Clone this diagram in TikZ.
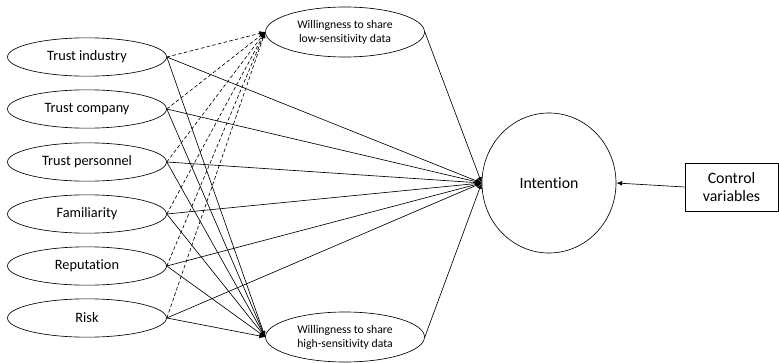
\documentclass[tikz,border=0pt]{standalone}
\usepackage{fontspec}
\setmainfont{Carlito}[Ligatures={NoCommon}]
\usetikzlibrary{shapes.geometric,arrows.meta}
\begin{document}
\begin{tikzpicture}[x=0.03cm,y=-0.03cm,line width=0.55pt,
  src/.style={draw,ellipse,minimum width=4.77cm,minimum height=1.15cm,inner sep=0pt,font=\fontsize{12.2}{14}\selectfont},
  med/.style={draw,ellipse,minimum width=4.77cm,minimum height=1.5cm,inner sep=0pt,align=center,font=\fontsize{10}{12}\selectfont},
  arr/.style={-{Latex[length=5pt,width=4pt]}},
  dsh/.style={arr,dashed,dash pattern=on 3pt off 2pt}]
\useasboundingbox (0,0) rectangle (779,363);
\node[src] (ti) at (87,57) {Trust industry};
\node[src] (tc) at (87,109) {Trust company};
\node[src] (tp) at (87,162) {Trust personnel};
\node[src] (fa) at (87,214) {Familiarity};
\node[src] (re) at (87,266) {Reputation};
\node[src] (ri) at (87,318) {Risk};
\node[med] (lo) at (345,32) {Willingness to share\\low-sensitivity data};
\node[med] (hi) at (345,337) {Willingness to share\\high-sensitivity data};
\node[draw,ellipse,minimum width=4.02cm,minimum height=4.2cm,inner sep=0pt,font=\fontsize{13.5}{15}\selectfont] (in) at (549,183) {Intention};
\node[draw,rectangle,minimum width=2.79cm,minimum height=1.44cm,align=center,inner sep=0pt,font=\fontsize{13.5}{15.5}\selectfont] (cv) at (731.5,187) {Control\\variables};
\foreach \n in {ti,tc,tp,fa,re,ri}{
  \draw[dsh] (\n.east) -- (lo.west);
  \draw[arr] (\n.east) -- (hi.west);
  \draw[arr] (\n.east) -- (in.west);
}
\draw[arr] (lo.east) -- (in.west);
\draw[arr] (hi.east) -- (in.west);
\draw[arr] (cv.west) -- (in.east);
\end{tikzpicture}
\end{document}
